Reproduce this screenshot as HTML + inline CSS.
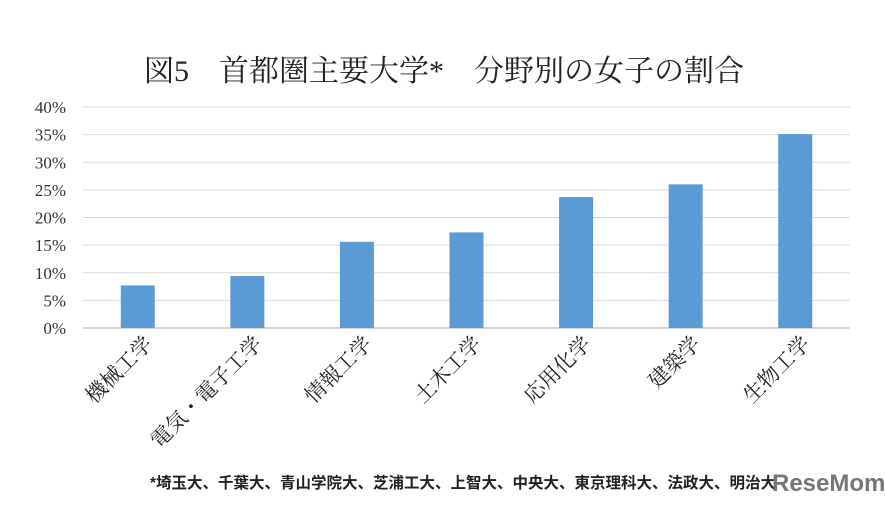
<!DOCTYPE html>
<html><head><meta charset="utf-8"><style>
body{margin:0;background:#fff;width:885px;height:506px;overflow:hidden;font-family:"Liberation Serif","Noto Serif CJK JP",serif}
</style></head><body>
<svg width="885" height="506">
<text x="444" y="81" text-anchor="middle" font-size="30" fill="#222" font-family="Liberation Serif, Noto Serif CJK JP, serif">図5　首都圏主要大学*　分野別の女子の割合</text>
<g id="grid"></g><g id="bars"></g><g id="labels"></g>
<text x="150" y="488" font-size="15.5" font-weight="bold" fill="#222" font-family="Liberation Sans, Noto Sans CJK JP, sans-serif">*埼玉大、千葉大、青山学院大、芝浦工大、上智大、中央大、東京理科大、法政大、明治大</text>
<text x="772" y="491" font-size="24" font-weight="bold" fill="#777" font-family="Liberation Sans, sans-serif">ReseMom</text>
</svg>
<script>
const categories=["機械工学","電気・電子工学","情報工学","土木工学","応用化学","建築学","生物工学"];
const values=[7.7,9.4,15.6,17.3,23.7,26.0,35.1];
const ticks=[0,5,10,15,20,25,30,35,40];
const tickLabels=["0%","5%","10%","15%","20%","25%","30%","35%","40%"];
const NS="http://www.w3.org/2000/svg";
const x0=83,x1=850,y0=328,y1=107,vmax=40;
const y=v=>y0-(y0-y1)*v/vmax;
const bw=(x1-x0)/categories.length;
const xc=i=>x0+bw*(i+0.5);
function mk(t,a,p){const e=document.createElementNS(NS,t);for(const k in a)e.setAttribute(k,a[k]);p.appendChild(e);return e;}
const g=document.getElementById('grid'),b=document.getElementById('bars'),l=document.getElementById('labels');
ticks.forEach((t,i)=>{
 const ln=mk('line',{x1:x0,x2:x1,y1:y(t),y2:y(t),stroke:i==0?'#c8c8c8':'#d9d9d9','stroke-width':i==0?1.5:1},g);
 
 
 const tx=mk('text',{x:66,y:y(t)+6,'text-anchor':'end','font-size':17,fill:'#333'},g);
 tx.textContent=tickLabels[i];
 
 
});
values.forEach((v,i)=>{
 const r=mk('rect',{x:xc(i)-17,y:y(v),width:34,height:y0-y(v),fill:'#5b9bd5'},b);
 
 
 const tx=mk('text',{x:0,y:0,'text-anchor':'end','font-size':21,fill:'#222',transform:`translate(${xc(i)+16},${345}) rotate(-45)`},l);
 tx.textContent=categories[i];
 
 
});
</script>
</body></html>
